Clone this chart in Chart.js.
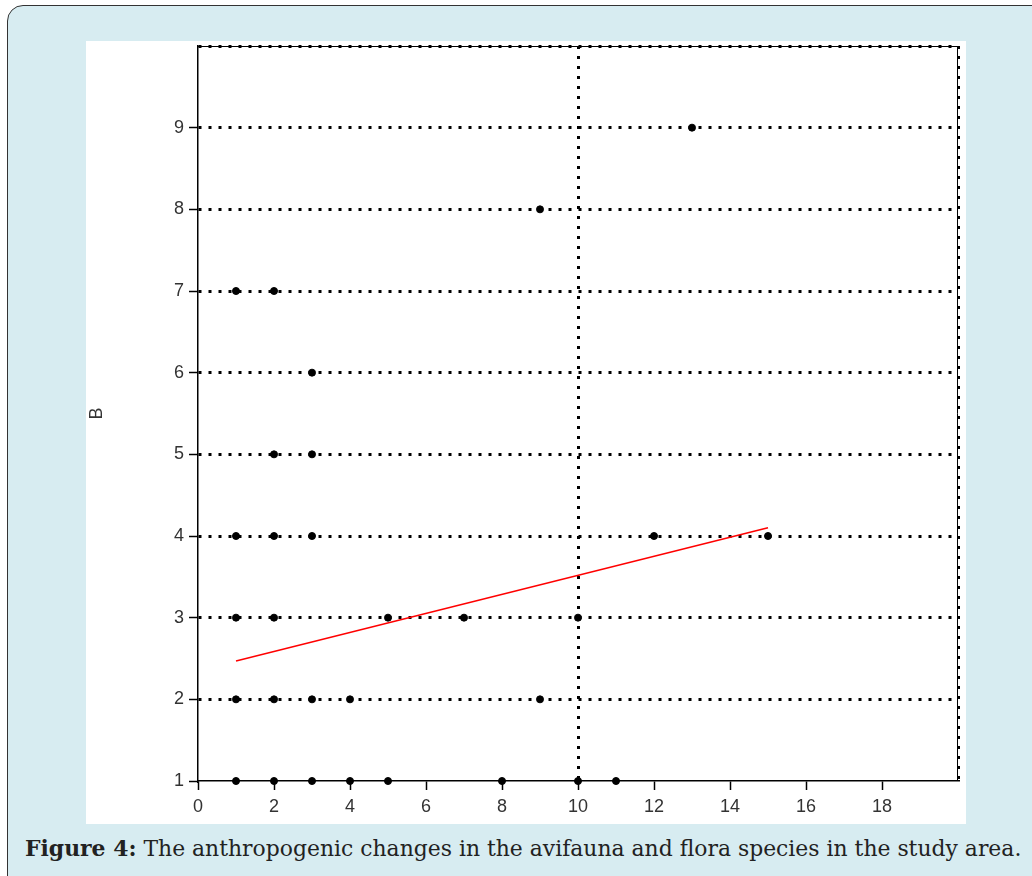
<!DOCTYPE html>
<html>
<head>
<meta charset="utf-8">
<script src="https://cdn.jsdelivr.net/npm/chart.js@4/dist/chart.umd.min.js"></script>
<style>
    html, body { margin: 0; padding: 0; background: #fff; }
    body { width: 1032px; height: 876px; position: relative; overflow: hidden; }
    #frame {
        position: absolute; left: 7px; top: 5px; width: 1060px; height: 900px;
        background: #d7ecf1; border: 1.5px solid #333; border-radius: 16px; box-sizing: border-box;
    }
    #plot { position: absolute; left: 86px; top: 41px; width: 880px; height: 783px; background: #fff; }
    #caption {
        position: absolute; left: 25px; top: 835px; white-space: nowrap;
        font-family: "DejaVu Serif", serif; font-size: 21.9px; color: #222;
    }
</style>
</head>
<body>
<div id="frame"></div>
<div id="plot"><canvas id="chart" width="880" height="783"></canvas></div>
<div id="caption"><b>Figure 4:</b> The anthropogenic changes in the avifauna and flora species in the study area.</div>
<script>
// observed values (A on x, B on y)
const xValues = [13, 9, 1, 2, 3, 2, 3, 1, 2, 3, 12, 15, 1, 2, 5, 7, 10, 1, 2, 3, 4, 9, 1, 2, 3, 4, 5, 8, 10, 11];
const yValues = [9, 8, 7, 7, 6, 5, 5, 4, 4, 4, 4, 4, 3, 3, 3, 3, 3, 2, 2, 2, 2, 2, 1, 1, 1, 1, 1, 1, 1, 1];

// fitted line at its two ends
const fitX = [1, 15];
const fitY = [2.47, 4.1];

const xTicks = [0, 2, 4, 6, 8, 10, 12, 14, 16, 18];
const yTicks = [1, 2, 3, 4, 5, 6, 7, 8, 9];

const points = xValues.map((x, i) => ({ x: x, y: yValues[i] }));
const fit = fitX.map((x, i) => ({ x: x, y: fitY[i] }));

// thin solid line along the top and right edge of the plot
const frameEdges = {
    id: 'frameEdges',
    beforeDatasetsDraw(chart) {
        const a = chart.chartArea;
        const c = chart.ctx;
        c.save();
        c.strokeStyle = '#000';
        c.lineWidth = 1;
        c.beginPath();
        c.moveTo(a.left, a.top + 0.5);
        c.lineTo(a.right - 0.5, a.top + 0.5);
        c.lineTo(a.right - 0.5, a.bottom);
        c.stroke();
        c.restore();
    }
};

const tickFont = { family: '"Liberation Sans", Arial, sans-serif', size: 18 };

new Chart(document.getElementById('chart').getContext('2d'), {
    type: 'scatter',
    data: {
        datasets: [
            {
                data: points,
                backgroundColor: '#000',
                borderColor: '#000',
                pointRadius: 3.5,
                pointHoverRadius: 3.5,
                clip: false
            },
            {
                type: 'line',
                data: fit,
                borderColor: '#ff0000',
                borderWidth: 1.5,
                pointRadius: 0,
                fill: false
            }
        ]
    },
    options: {
        responsive: false,
        animation: false,
        events: [],
        layout: { padding: { top: 5, right: 8, left: 0, bottom: 0 } },
        plugins: { legend: { display: false }, tooltip: { enabled: false } },
        scales: {
            x: {
                type: 'linear',
                min: 0,
                max: 20,
                afterFit(scale) {
                    scale.height = 43;
                    scale.paddingLeft = 0;
                    scale.paddingRight = 0;
                },
                border: { display: true, color: '#000', width: 1.5, dash: [3, 7] },
                grid: {
                    lineWidth: 3,
                    color: c => (c.tick && (c.tick.value === 10 || c.tick.value === 20)) ? '#000' : 'rgba(0,0,0,0)',
                    tickColor: c => (c.tick && c.tick.value < 20) ? '#000' : 'rgba(0,0,0,0)',
                    tickLength: 9,
                    tickWidth: 1.5
                },
                ticks: {
                    stepSize: 2,
                    padding: 6,
                    color: '#333',
                    font: tickFont,
                    maxRotation: 0,
                    callback: v => xTicks.includes(v) ? String(v) : ''
                }
            },
            y: {
                type: 'linear',
                min: 1,
                max: 10,
                afterFit(scale) {
                    scale.width = 112;
                    scale.paddingTop = 0;
                    scale.paddingBottom = 0;
                },
                border: { display: true, color: '#000', width: 1.5, dash: [3, 7] },
                grid: {
                    lineWidth: 3,
                    color: c => (c.tick && c.tick.value >= 2) ? '#000' : 'rgba(0,0,0,0)',
                    tickColor: c => (c.tick && c.tick.value < 10) ? '#000' : 'rgba(0,0,0,0)',
                    tickLength: 9,
                    tickWidth: 1.5
                },
                ticks: {
                    stepSize: 1,
                    padding: 5,
                    color: '#333',
                    font: tickFont,
                    callback: v => yTicks.includes(v) ? String(v) : ''
                },
                title: {
                    display: true,
                    text: 'B',
                    color: '#333',
                    font: tickFont,
                    padding: { top: 0, bottom: 0 }
                }
            }
        }
    },
    plugins: [frameEdges]
});
</script>
</body>
</html>
